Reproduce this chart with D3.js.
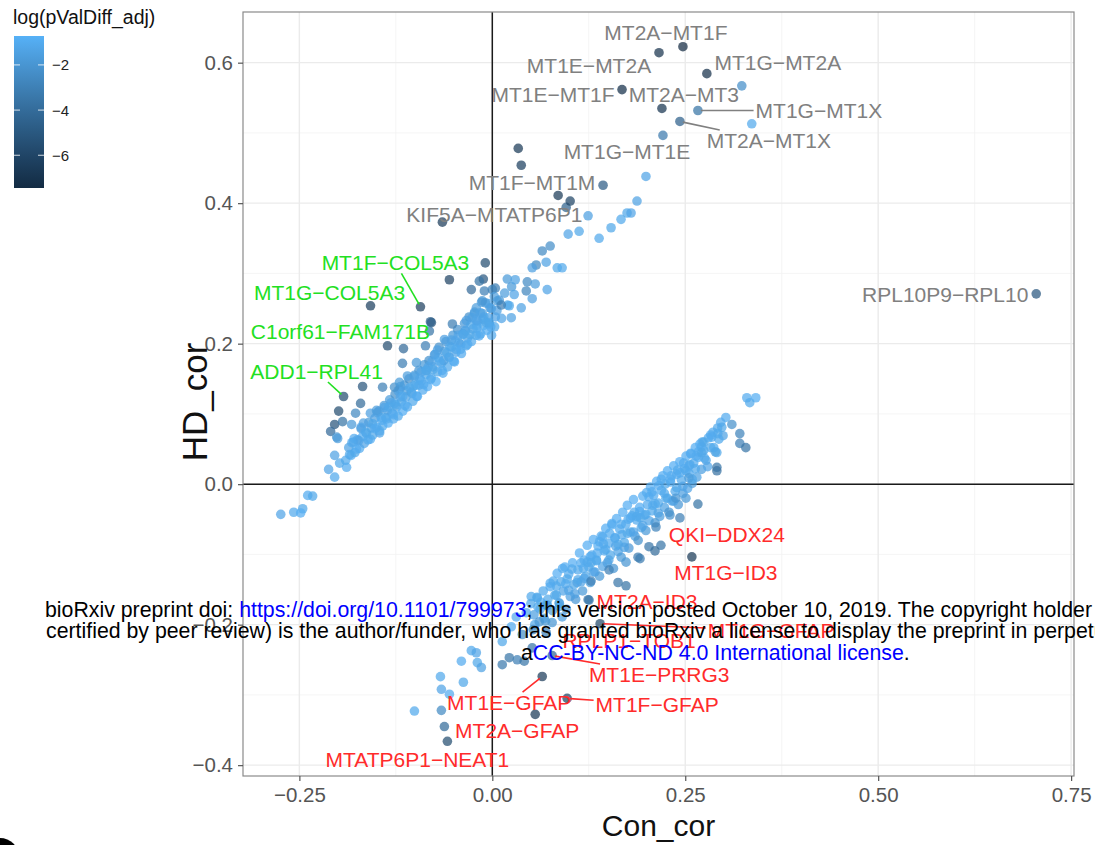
<!DOCTYPE html>
<html>
<head>
<meta charset="utf-8">
<script src="https://cdn.jsdelivr.net/npm/d3@7"></script>
<style>
  body { margin: 0; background: #fff; }
  svg { display: block; font-family: "Liberation Sans", Arial, Helvetica, sans-serif; }
</style>
</head>
<body>
<svg id="chart" width="1095" height="845"></svg>
<script>
// Gene-pair correlation in controls (Con_cor) versus Huntington's disease (HD_cor),
// coloured by log of the adjusted p-value of the correlation difference.

// ---- axis breaks ----
const xTicks = [-0.25, 0, 0.25, 0.5, 0.75];
const xTickLabels = ["−0.25", "0.00", "0.25", "0.50", "0.75"];
const yTicks = [-0.4, -0.2, 0, 0.2, 0.4, 0.6];
const yTickLabels = ["−0.4", "−0.2", "0.0", "0.2", "0.4", "0.6"];
const legendTicks = [-6, -4, -2];
const legendTickLabels = ["−6", "−4", "−2"];

// ---- pairs gaining correlation in HD: [Con_cor, HD_cor, log(pValDiff_adj)] ----
const upperCluster = [
  [-0.190,0.034,-1.1],[-0.186,0.052,-1.4],[-0.183,0.041,-0.9],
  [-0.178,0.045,-1.2],[-0.175,0.063,-1.6],[-0.172,0.051,-1.0],[-0.170,0.079,-1.9],
  [-0.166,0.058,-1.3],[-0.163,0.072,-1.1],[-0.160,0.088,-1.7],[-0.158,0.064,-0.9],
  [-0.155,0.070,-1.2],[-0.152,0.094,-1.5],[-0.150,0.081,-1.0],[-0.147,0.104,-2.0],[-0.146,0.073,-1.3],
  [-0.142,0.083,-1.1],[-0.140,0.112,-1.8],[-0.138,0.095,-1.2],[-0.135,0.087,-0.9],[-0.133,0.120,-1.6],
  [-0.130,0.101,-1.3],[-0.128,0.093,-1.0],[-0.126,0.128,-2.2],[-0.124,0.110,-1.4],[-0.122,0.097,-1.1],[-0.120,0.135,-1.7],
  [-0.118,0.117,-1.2],[-0.116,0.104,-0.9],[-0.114,0.141,-1.9],[-0.112,0.124,-1.3],[-0.110,0.110,-1.0],[-0.108,0.150,-2.3],
  [-0.105,0.131,-1.4],[-0.103,0.118,-1.1],[-0.101,0.155,-1.6],[-0.099,0.141,-1.2],[-0.097,0.125,-0.8],[-0.095,0.162,-2.0],
  [-0.092,0.147,-1.3],[-0.090,0.134,-1.0],[-0.088,0.170,-1.8],[-0.086,0.156,-1.2],[-0.084,0.139,-0.9],[-0.082,0.176,-2.1],
  [-0.079,0.151,-1.1],[-0.077,0.167,-1.5],[-0.075,0.184,-1.9],[-0.073,0.146,-0.72],[-0.071,0.160,-1.2],[-0.069,0.195,-2.2],
  [-0.066,0.172,-1.3],[-0.064,0.158,-1.0],[-0.062,0.189,-1.6],[-0.060,0.203,-2.0],[-0.058,0.167,-1.1],[-0.056,0.181,-1.4],
  [-0.053,0.195,-1.2],[-0.051,0.212,-1.8],[-0.049,0.174,-0.9],[-0.047,0.188,-1.3],[-0.045,0.220,-2.1],[-0.043,0.201,-1.5],
  [-0.040,0.186,-1.0],[-0.038,0.214,-1.4],[-0.036,0.229,-1.9],[-0.034,0.197,-1.1],[-0.032,0.208,-1.3],[-0.030,0.238,-2.2],
  [-0.027,0.203,-1.0],[-0.025,0.221,-1.5],[-0.023,0.245,-1.8],[-0.021,0.212,-1.2],[-0.019,0.232,-1.4],
  [-0.015,0.214,-1.1],[-0.013,0.243,-1.6],[-0.011,0.226,-1.2],[-0.009,0.258,-2.0],[-0.007,0.219,-0.9],[-0.005,0.237,-1.3],
  [-0.003,0.251,-1.7],[-0.001,0.212,-1.0],
  [0.003,0.224,-1.2],[0.006,0.247,-1.5],[0.009,0.262,-1.9],[0.012,0.236,-1.3],[0.016,0.272,-1.6],[0.020,0.255,-1.2],[0.025,0.281,-1.8],
  [-0.180,0.060,-1.3],[-0.168,0.068,-1.0],[-0.157,0.080,-1.4],[-0.144,0.095,-1.2],[-0.136,0.105,-1.5],[-0.127,0.115,-1.1],
  [-0.119,0.124,-1.3],[-0.111,0.133,-1.6],[-0.102,0.140,-1.2],[-0.094,0.150,-1.0],[-0.085,0.162,-1.4],[-0.078,0.175,-1.3],
  [-0.070,0.180,-1.1],[-0.063,0.176,-1.5],[-0.055,0.196,-1.2],[-0.048,0.204,-1.0],[-0.041,0.199,-1.3],[-0.035,0.218,-1.6],
  [-0.028,0.227,-1.2],[-0.020,0.222,-1.0],[-0.012,0.235,-1.4],[-0.004,0.228,-1.1],[0.004,0.238,-1.3],
  [-0.185,0.042,-1.2],[-0.179,0.065,-1.0],[-0.173,0.062,-1.3],[-0.167,0.087,-1.5],[-0.161,0.063,-1.1],[-0.155,0.086,-1.2],
  [-0.149,0.102,-1.4],[-0.143,0.091,-1.0],[-0.137,0.093,-1.1],[-0.131,0.116,-1.3],[-0.125,0.113,-1.2],[-0.119,0.139,-1.5],
  [-0.113,0.112,-1.0],[-0.107,0.137,-1.2],[-0.101,0.153,-1.4],[-0.095,0.141,-1.1],[-0.089,0.142,-1.0],[-0.083,0.167,-1.3],
  [-0.077,0.163,-1.2],[-0.071,0.191,-1.5],[-0.065,0.162,-1.0],[-0.059,0.187,-1.2],[-0.053,0.205,-1.4],[-0.047,0.192,-1.1],
  [-0.041,0.192,-1.0],[-0.035,0.219,-1.3],[-0.029,0.213,-1.2],[-0.023,0.243,-1.5],[-0.017,0.211,-1.0],[-0.011,0.238,-1.2],
  [-0.005,0.257,-1.4],
  [-0.182,0.059,-1.1],[-0.176,0.050,-1.0],[-0.170,0.081,-1.3],[-0.164,0.074,-1.2],[-0.158,0.101,-1.5],[-0.152,0.079,-1.0],
  [-0.146,0.076,-1.1],[-0.140,0.109,-1.3],[-0.134,0.110,-1.2],[-0.128,0.099,-1.0],[-0.122,0.133,-1.4],[-0.116,0.125,-1.1],
  [-0.110,0.154,-1.6],[-0.104,0.129,-1.2],[-0.098,0.125,-1.0],[-0.092,0.160,-1.3],[-0.086,0.162,-1.2],[-0.080,0.149,-1.0],
  [-0.074,0.185,-1.4],[-0.068,0.175,-1.1],[-0.062,0.206,-1.5],[-0.056,0.180,-1.2],[-0.050,0.175,-1.0],[-0.044,0.212,-1.3],
  [-0.038,0.213,-1.2],[-0.032,0.199,-1.0],[-0.026,0.237,-1.4],[-0.020,0.226,-1.1],[-0.014,0.259,-1.6],[-0.008,0.230,-1.2],
  [-0.002,0.224,-1.0],
  [-0.0091,0.315,-5.6],[-0.0116,0.292,-5.0],[-0.0168,0.289,-3.6],[-0.0556,0.291,-6.1],[-0.0272,0.277,-4.1],[-0.0103,0.275,-3.0],
  [-0.0129,0.261,-2.0],[-0.0207,0.251,-1.6],[-0.0155,0.244,-1.4],[-0.0013,0.250,-1.5],[0.0065,0.261,-1.7],[-0.0336,0.233,-1.5],
  [-0.0207,0.233,-1.3],[-0.0039,0.230,-1.2],[-0.0517,0.228,-3.1],[0.0246,0.237,-1.4],[-0.0789,0.230,-5.1],
  [-0.0815,0.218,-3.5],[-0.1358,0.197,-5.6],[-0.1151,0.193,-4.1],[-0.0866,0.197,-3.0],[-0.1164,0.172,-3.1],[-0.0983,0.173,-1.8],
  [-0.1681,0.139,-5.1],[-0.1422,0.138,-3.0],[-0.1707,0.115,-4.0],[-0.1991,0.104,-5.6],[-0.2043,0.085,-5.2],[-0.2095,0.075,-4.1],
  [-0.1940,0.089,-3.6],[-0.2017,0.067,-2.1],[-0.1772,0.101,-2.6],[-0.1823,0.085,-1.8],[-0.1500,0.105,-1.6],[-0.1267,0.138,-2.2],
  [-0.1203,0.145,-1.7],
  [-0.2121,0.021,-1.3],[-0.2043,0.010,-1.1],[-0.1979,0.030,-1.2],[-0.2004,0.065,-1.6],[-0.2043,0.041,-1.4],[-0.1888,0.024,-1.0],
  [-0.2457,-0.035,-1.2],[-0.2573,-0.040,-1.1],[-0.2483,-0.041,-0.9],[-0.2741,-0.043,-1.3],[-0.2392,-0.016,-1.0],[-0.2328,-0.017,-1.2],
  [0.0194,0.292,-1.8],[0.0297,0.291,-1.4],[0.0453,0.288,-2.5],[0.0556,0.285,-1.6],[0.0440,0.275,-2.7],[0.0711,0.277,-1.3],
  [0.0517,0.264,-1.5],[0.0284,0.270,-1.3],[0.0220,0.254,-1.2],[0.0375,0.251,-1.4],[0.0116,0.255,-3.0],[0.0039,0.279,-3.1],
  [0.0000,0.277,-2.9],[0.0026,0.267,-1.6],
  [0.0647,0.332,-2.5],[0.0750,0.339,-2.3],[0.0698,0.316,-1.4],[0.0841,0.308,-1.2],[0.0905,0.308,-1.1],[0.0569,0.312,-2.6],
  [0.0517,0.308,-1.5],
  [0.0983,0.356,-1.3],[0.1125,0.360,-1.2],[0.1384,0.350,-1.1],[0.1539,0.365,-1.2],[0.1241,0.382,-1.5],[0.1668,0.377,-1.1],
  [0.1746,0.386,-1.2],[0.1798,0.386,-1.3],[0.1875,0.403,-1.4],[0.1991,0.438,-1.3],[0.0957,0.394,-4.5],[0.1009,0.403,-6.0],
  [0.0853,0.411,-6.6],[0.0375,0.454,-6.3],[0.0336,0.478,-6.6],[0.3233,0.567,-2.3],[0.3362,0.513,-1.1]
];

// ---- pairs losing correlation in HD ----
const lowerCluster = [
  [0.050,-0.170,-1.2],[0.054,-0.186,-1.5],[0.058,-0.161,-1.0],
  [0.062,-0.178,-1.3],[0.066,-0.152,-1.1],[0.069,-0.195,-2.0],[0.072,-0.164,-1.2],
  [0.075,-0.141,-1.0],[0.078,-0.180,-1.7],[0.081,-0.158,-1.2],[0.084,-0.127,-0.9],
  [0.087,-0.170,-1.6],[0.089,-0.139,-1.1],[0.092,-0.152,-1.3],[0.094,-0.118,-0.9],[0.096,-0.178,-2.1],
  [0.099,-0.128,-1.0],[0.101,-0.160,-1.5],[0.104,-0.112,-0.9],[0.106,-0.143,-1.2],[0.108,-0.164,-1.9],
  [0.111,-0.122,-1.1],[0.113,-0.098,-0.9],[0.115,-0.139,-1.3],[0.117,-0.152,-1.8],[0.119,-0.108,-1.0],[0.121,-0.131,-1.2],
  [0.123,-0.087,-0.9],[0.125,-0.118,-1.1],[0.127,-0.140,-1.7],[0.129,-0.101,-1.0],[0.131,-0.079,-0.9],[0.133,-0.125,-1.4],
  [0.135,-0.109,-1.1],[0.137,-0.088,-0.9],[0.139,-0.131,-1.8],[0.141,-0.074,-1.0],[0.143,-0.117,-1.3],[0.145,-0.095,-1.0],
  [0.147,-0.063,-0.9],[0.149,-0.112,-1.5],[0.151,-0.084,-1.0],[0.153,-0.101,-1.2],[0.155,-0.058,-0.9],[0.157,-0.120,-2.0],
  [0.159,-0.076,-1.0],[0.161,-0.049,-0.9],[0.163,-0.096,-1.3],[0.165,-0.064,-1.0],[0.167,-0.104,-1.8],[0.169,-0.040,-0.9],
  [0.171,-0.083,-1.2],[0.173,-0.057,-1.0],[0.175,-0.030,-0.9],[0.177,-0.091,-1.9],[0.179,-0.068,-1.1],[0.181,-0.045,-1.0],
  [0.183,-0.022,-0.9],[0.185,-0.074,-1.5],[0.187,-0.051,-1.0],[0.189,-0.080,-2.2],[0.191,-0.033,-0.9],[0.193,-0.062,-1.2],
  [0.195,-0.017,-0.9],[0.197,-0.044,-1.1],[0.199,-0.066,-1.8],[0.201,-0.029,-1.0],[0.203,-0.052,-1.3],[0.205,-0.004,-0.9],
  [0.207,-0.038,-1.1],[0.209,-0.016,-1.0],[0.211,-0.055,-2.0],[0.213,0.004,-0.9],[0.215,-0.027,-1.1],[0.217,-0.046,-1.6],
  [0.219,-0.009,-1.0],[0.221,0.012,-0.9],[0.223,-0.033,-1.4],[0.225,-0.020,-1.1],[0.227,0.019,-0.9],[0.229,-0.040,-2.1],
  [0.231,0.003,-1.0],[0.233,-0.024,-1.3],[0.235,0.026,-0.9],[0.237,-0.010,-1.1],[0.239,0.014,-1.0],[0.241,-0.029,-1.9],
  [0.243,0.032,-0.9],[0.245,0.006,-1.1],[0.247,-0.013,-1.5],[0.249,0.022,-1.0],[0.251,0.040,-0.9],[0.253,-0.006,-1.3],
  [0.255,0.015,-1.0],[0.257,0.044,-0.9],[0.259,0.001,-1.6],[0.261,0.030,-1.0],[0.263,0.052,-0.9],[0.265,0.010,-1.4],
  [0.267,0.038,-1.0],[0.269,0.057,-0.9],[0.271,0.021,-1.5],[0.274,0.048,-1.1],[0.277,0.034,-1.3],[0.280,0.066,-1.0],
  [0.283,0.052,-1.2],[0.286,0.074,-1.0],[0.289,0.046,-1.6],[0.292,0.080,-1.1],[0.296,0.088,-1.0],[0.299,0.069,-1.4],
  [0.070,-0.172,-1.3],[0.083,-0.145,-1.1],[0.097,-0.135,-1.2],[0.110,-0.140,-1.4],[0.118,-0.120,-1.1],[0.128,-0.112,-1.2],
  [0.136,-0.098,-1.0],[0.144,-0.085,-1.1],[0.152,-0.070,-1.0],[0.160,-0.088,-1.3],[0.168,-0.072,-1.1],[0.176,-0.050,-1.0],
  [0.184,-0.040,-1.1],[0.192,-0.048,-1.2],[0.200,-0.012,-1.0],[0.208,-0.030,-1.1],[0.216,-0.002,-1.0],[0.224,0.000,-1.2],
  [0.232,0.012,-1.0],[0.240,0.020,-1.1],[0.248,0.030,-1.0],[0.256,0.028,-1.2],[0.264,0.040,-1.0],[0.272,0.060,-1.1],
  [0.055,-0.200,-1.2],[0.063,-0.168,-1.0],[0.071,-0.173,-1.3],[0.079,-0.138,-1.1],[0.087,-0.174,-1.4],[0.095,-0.142,-1.0],
  [0.103,-0.121,-1.1],[0.111,-0.136,-1.2],[0.119,-0.134,-1.3],[0.127,-0.103,-1.0],[0.135,-0.108,-1.1],[0.143,-0.075,-1.0],
  [0.151,-0.108,-1.4],[0.159,-0.077,-1.1],[0.167,-0.057,-1.0],[0.175,-0.070,-1.2],[0.183,-0.068,-1.3],[0.191,-0.039,-1.0],
  [0.199,-0.043,-1.1],[0.207,-0.011,-1.0],[0.215,-0.041,-1.4],[0.223,-0.013,-1.1],[0.231,0.007,-1.0],[0.239,-0.005,-1.2],
  [0.247,-0.003,-1.3],[0.255,0.026,-1.0],[0.263,0.022,-1.1],[0.271,0.053,-1.0],[0.279,0.025,-1.3],[0.287,0.052,-1.1],
  [0.059,-0.175,-1.1],[0.067,-0.191,-1.5],[0.075,-0.146,-1.0],[0.083,-0.158,-1.2],[0.091,-0.120,-1.0],[0.099,-0.151,-1.3],
  [0.107,-0.156,-1.5],[0.115,-0.112,-1.0],[0.123,-0.111,-1.1],[0.131,-0.125,-1.3],[0.139,-0.082,-1.0],[0.147,-0.093,-1.1],
  [0.155,-0.056,-1.0],[0.163,-0.086,-1.2],[0.171,-0.090,-1.4],[0.179,-0.048,-1.0],[0.187,-0.046,-1.1],[0.195,-0.059,-1.3],
  [0.203,-0.018,-1.0],[0.211,-0.028,-1.1],[0.219,0.007,-1.0],[0.227,-0.020,-1.2],[0.235,-0.024,-1.4],[0.243,0.016,-1.0],
  [0.251,0.019,-1.1],[0.259,0.007,-1.2],[0.267,0.046,-1.0],[0.275,0.037,-1.1],[0.283,0.070,-1.0],[0.291,0.045,-1.2],
  [0.3298,0.123,-1.0],[0.3414,0.123,-0.9],[0.3336,0.116,-1.1],[0.3026,0.095,-1.0],[0.3104,0.085,-2.2],[0.2974,0.081,-1.2],
  [0.2922,0.072,-1.1],[0.3207,0.072,-2.8],[0.3207,0.058,-3.0],[0.3285,0.052,-3.5],[0.2741,0.060,-1.2],[0.2845,0.067,-1.0],
  [0.2935,0.064,-1.1],[0.2716,0.045,-1.2],[0.2573,0.043,-1.0],[0.2910,0.024,-3.5],[0.2910,0.019,-3.7],
  [0.2547,0.009,-1.6],[0.2509,-0.020,-1.8],[0.2379,-0.020,-2.0],[0.2431,-0.048,-3.0],[0.2302,-0.044,-2.2],[0.2121,-0.061,-2.8],
  [0.2185,-0.087,-3.5],[0.2030,-0.089,-3.5],[0.2108,-0.095,-4.0],[0.1888,-0.104,-3.2],[0.1914,-0.106,-3.2],[0.1629,-0.140,-3.5],
  [0.1733,-0.111,-2.0],[0.1513,-0.122,-3.0],[0.1280,-0.138,-3.0],[0.1254,-0.165,-3.2],
  [0.0504,-0.160,-1.1],[0.0582,-0.162,-1.2],[0.0711,-0.172,-1.3],[0.0866,-0.169,-1.4],[0.0310,-0.189,-1.1],[0.0440,-0.183,-1.2],
  [0.0246,-0.203,-1.0],[0.0129,-0.224,-1.2],[0.0388,-0.214,-2.3],[0.0530,-0.207,-2.7],[0.0698,-0.211,-3.0],[0.0608,-0.196,-2.0],
  [0.0776,-0.197,-2.0],[0.0905,-0.189,-1.5],
  [-0.0272,-0.237,-1.1],[-0.0207,-0.240,-1.3],[-0.0401,-0.252,-1.0],[-0.0194,-0.254,-1.2],[-0.0142,-0.261,-1.4],
  [0.0129,-0.257,-3.3],[0.0220,-0.247,-3.5],[0.0323,-0.250,-3.0],[0.0414,-0.252,-3.5],[0.0517,-0.233,-3.5],
  [-0.0672,-0.274,-1.1],[-0.0375,-0.282,-1.2],[-0.0660,-0.292,-1.3],[-0.0556,-0.299,-1.0],[-0.1009,-0.323,-1.1],
  [-0.0660,-0.322,-2.5],[-0.0621,-0.345,-4.0]
];

// ---- named gene pairs ----
const labelledPairs = [
  { pair: "MT2A−MT1F",       con: 0.2470, hd: 0.6227,  logp: -7.45, group: "mt" },
  { pair: "MT1E−MT2A",       con: 0.2160, hd: 0.6142,  logp: -7.0,  group: "mt" },
  { pair: "MT1G−MT2A",       con: 0.2780, hd: 0.5844,  logp: -7.1,  group: "mt" },
  { pair: "MT1E−MT1F",       con: 0.1681, hd: 0.5617,  logp: -7.2,  group: "mt" },
  { pair: "MT2A−MT3",        con: 0.2198, hd: 0.5348,  logp: -6.9,  group: "mt" },
  { pair: "MT1G−MT1X",       con: 0.2664, hd: 0.5319,  logp: -3.6,  group: "mt" },
  { pair: "MT2A−MT1X",       con: 0.2431, hd: 0.5163,  logp: -4.6,  group: "mt" },
  { pair: "MT1G−MT1E",       con: 0.2211, hd: 0.4965,  logp: -3.3,  group: "mt" },
  { pair: "MT1F−MT1M",       con: 0.1435, hd: 0.4255,  logp: -4.8,  group: "mt" },
  { pair: "KIF5A−MTATP6P1",  con: -0.0647, hd: 0.3730, logp: -6.5,  group: "mt" },
  { pair: "RPL10P9−RPL10",   con: 0.7048, hd: 0.2709,  logp: -5.0,  group: "mt" },
  { pair: "MT1F−COL5A3",     con: -0.0931, hd: 0.2525, logp: -6.2,  group: "gain" },
  { pair: "MT1G−COL5A3",     con: -0.1578, hd: 0.2539, logp: -6.3,  group: "gain" },
  { pair: "C1orf61−FAM171B", con: -0.0802, hd: 0.2312, logp: -4.6,  group: "gain" },
  { pair: "ADD1−RPL41",      con: -0.1927, hd: 0.1248, logp: -5.6,  group: "gain" },
  { pair: "QKI−DDX24",       con: 0.2664, hd: -0.0284, logp: -3.6,  group: "loss" },
  { pair: "MT1G−ID3",        con: 0.2586, hd: -0.1035, logp: -6.6,  group: "loss" },
  { pair: "MT2A−ID3",        con: 0.1733, hd: -0.1447, logp: -3.6,  group: "loss" },
  { pair: "MT1G−GFAP",       con: 0.1397, hd: -0.1986, logp: -5.8,  group: "loss" },
  { pair: "RPLP1−TOB1",      con: 0.1241, hd: -0.1645, logp: -3.5,  group: "loss" },
  { pair: "MT1E−PRRG3",      con: 0.0776, hd: -0.2440, logp: -4.2,  group: "loss" },
  { pair: "MT1E−GFAP",       con: 0.0647, hd: -0.2738, logp: -6.5,  group: "loss" },
  { pair: "MT1F−GFAP",       con: 0.0970, hd: -0.3050, logp: -6.1,  group: "loss" },
  { pair: "MT2A−GFAP",       con: 0.0556, hd: -0.3277, logp: -6.6,  group: "loss" },
  { pair: "MTATP6P1−NEAT1",  con: -0.0582, hd: -0.3660, logp: -5.6,  group: "loss" }
];

// ---- label placement (pixel offset of the label centre from its point) ----
const labelLayout = {
  "MT2A−MT1F":       { dx: -17, dy: -14 },
  "MT1E−MT2A":       { dx: -70, dy: 13 },
  "MT1G−MT2A":       { dx: 71,  dy: -11 },
  "MT1E−MT1F":       { dx: -69, dy: 5 },
  "MT2A−MT3":        { dx: 22,  dy: -14 },
  "MT1G−MT1X":       { dx: 121, dy: 0, segment: true },
  "MT2A−MT1X":       { dx: 89,  dy: 19, segment: true },
  "MT1G−MT1E":       { dx: -36, dy: 16 },
  "MT1F−MT1M":       { dx: -71, dy: -3 },
  "KIF5A−MTATP6P1":  { dx: 52,  dy: -8 },
  "RPL10P9−RPL10":   { dx: -91, dy: 1 },
  "MT1F−COL5A3":     { dx: -25, dy: -44, segment: true },
  "MT1G−COL5A3":     { dx: -41, dy: -13 },
  "C1orf61−FAM171B": { dx: -90, dy: 10 },
  "ADD1−RPL41":      { dx: -27, dy: -25, segment: true },
  "QKI−DDX24":       { dx: 29,  dy: 30 },
  "MT1G−ID3":        { dx: 34,  dy: 16 },
  "MT2A−ID3":        { dx: 21,  dy: 16 },
  "MT1G−GFAP":       { dx: 171, dy: 7, segment: true },
  "RPLP1−TOB1":      { dx: 41,  dy: 41 },
  "MT1E−PRRG3":      { dx: 107, dy: 19, segment: true },
  "MT1E−GFAP":       { dx: -33, dy: 26, segment: true },
  "MT1F−GFAP":       { dx: 90,  dy: 6, segment: true },
  "MT2A−GFAP":       { dx: -18, dy: 16 },
  "MTATP6P1−NEAT1":  { dx: -30, dy: 18 }
};
const groupColour = { mt: "#808080", gain: "#22E022", loss: "#FF2B2B" };

// ---- layout ----
const panel = { left: 243, right: 1074, top: 12, bottom: 776 };
const svg = d3.select("#chart");

const allPoints = upperCluster.concat(lowerCluster, labelledPairs.map(d => [d.con, d.hd, d.logp]));
const expand = e => { const r = e[1] - e[0]; return [e[0] - 0.05 * r, e[1] + 0.05 * r]; };
const x = d3.scaleLinear().domain(expand(d3.extent(allPoints, d => d[0]))).range([panel.left, panel.right]);
const y = d3.scaleLinear().domain(expand(d3.extent(allPoints, d => d[1]))).range([panel.bottom, panel.top]);
const colour = d3.scaleLinear()
  .domain(d3.extent(allPoints, d => d[2]))
  .range(["#132B43", "#56B1F7"])
  .interpolate(d3.interpolateLab);

// panel background and grid
svg.append("rect").attr("x", panel.left).attr("y", panel.top)
  .attr("width", panel.right - panel.left).attr("height", panel.bottom - panel.top).attr("fill", "#fff");

const mids = t => d3.pairs(t).map(([a, b]) => (a + b) / 2);
const grid = svg.append("g");
grid.selectAll(".vmin").data(mids(xTicks)).join("line")
  .attr("x1", d => x(d)).attr("x2", d => x(d)).attr("y1", panel.top).attr("y2", panel.bottom)
  .attr("stroke", "#F2F2F2").attr("stroke-width", 0.8);
grid.selectAll(".hmin").data(mids(yTicks)).join("line")
  .attr("y1", d => y(d)).attr("y2", d => y(d)).attr("x1", panel.left).attr("x2", panel.right)
  .attr("stroke", "#F2F2F2").attr("stroke-width", 0.8);
grid.selectAll(".vmaj").data(xTicks).join("line")
  .attr("x1", d => x(d)).attr("x2", d => x(d)).attr("y1", panel.top).attr("y2", panel.bottom)
  .attr("stroke", "#EBEBEB").attr("stroke-width", 1.4);
grid.selectAll(".hmaj").data(yTicks).join("line")
  .attr("y1", d => y(d)).attr("y2", d => y(d)).attr("x1", panel.left).attr("x2", panel.right)
  .attr("stroke", "#EBEBEB").attr("stroke-width", 1.4);

// zero reference lines
svg.append("line").attr("x1", x(0)).attr("x2", x(0)).attr("y1", panel.top).attr("y2", panel.bottom)
  .attr("stroke", "#1a1a1a").attr("stroke-width", 1.5);
svg.append("line").attr("y1", y(0)).attr("y2", y(0)).attr("x1", panel.left).attr("x2", panel.right)
  .attr("stroke", "#1a1a1a").attr("stroke-width", 1.5);

// points
const pts = svg.append("g");
pts.selectAll("circle.bulk").data(upperCluster.concat(lowerCluster)).join("circle")
  .attr("cx", d => x(d[0])).attr("cy", d => y(d[1])).attr("r", 4.8)
  .attr("fill", d => colour(d[2])).attr("fill-opacity", 0.72);
pts.selectAll("circle.named").data(labelledPairs).join("circle")
  .attr("cx", d => x(d.con)).attr("cy", d => y(d.hd)).attr("r", 4.8)
  .attr("fill", d => colour(d.logp)).attr("fill-opacity", 0.72);

// labels with leader segments
const labG = svg.append("g");
labelledPairs.forEach(d => {
  const lay = labelLayout[d.pair];
  const px = x(d.con), py = y(d.hd);
  const cx = px + lay.dx, cy = py + lay.dy;
  const t = labG.append("text").attr("x", cx).attr("y", cy)
    .attr("text-anchor", "middle").attr("dominant-baseline", "central")
    .attr("font-size", 21).attr("fill", groupColour[d.group]).text(d.pair);
  if (lay.segment) {
    const bb = t.node().getBBox();
    const hw = bb.width / 2 + 2, hh = bb.height / 2 - 1;
    const vx = px - cx, vy = py - cy;
    const s = Math.min(vx !== 0 ? hw / Math.abs(vx) : Infinity, vy !== 0 ? hh / Math.abs(vy) : Infinity);
    const ex = cx + s * vx, ey = cy + s * vy;
    const len = Math.hypot(px - ex, py - ey);
    const k = (len - 3) / len;
    labG.append("line").attr("x1", ex).attr("y1", ey)
      .attr("x2", ex + (px - ex) * k).attr("y2", ey + (py - ey) * k)
      .attr("stroke", groupColour[d.group]).attr("stroke-width", 1.6);
  }
});

// panel border
svg.append("rect").attr("x", panel.left).attr("y", panel.top)
  .attr("width", panel.right - panel.left).attr("height", panel.bottom - panel.top)
  .attr("fill", "none").attr("stroke", "#8a8a8a").attr("stroke-width", 1.2);

// axes
const xAxis = svg.append("g").attr("transform", `translate(0,${panel.bottom})`)
  .call(d3.axisBottom(x).tickValues(xTicks).tickFormat((d, i) => xTickLabels[i]).tickSize(5).tickPadding(6));
const yAxis = svg.append("g").attr("transform", `translate(${panel.left},0)`)
  .call(d3.axisLeft(y).tickValues(yTicks).tickFormat((d, i) => yTickLabels[i]).tickSize(5).tickPadding(5));
[xAxis, yAxis].forEach(a => {
  a.select(".domain").remove();
  a.selectAll(".tick line").attr("stroke", "#555").attr("stroke-width", 1.2);
  a.selectAll(".tick text").attr("fill", "#555").attr("font-size", 20.5)
    .attr("font-family", "Liberation Sans, Arial, sans-serif");
});

svg.append("text").attr("x", (panel.left + panel.right) / 2).attr("y", 836)
  .attr("text-anchor", "middle").attr("font-size", 30).attr("fill", "#111").text("Con_cor");
svg.append("text").attr("transform", `translate(207,402) rotate(-90)`)
  .attr("text-anchor", "middle").attr("font-size", 35).attr("fill", "#111").text("HD_cor");

// colour bar legend
const leg = { x: 14, y: 36, w: 30, h: 152 };
const cDomain = colour.domain();
const lScale = d3.scaleLinear().domain(cDomain).range([leg.y + leg.h, leg.y]);
const grad = svg.append("defs").append("linearGradient").attr("id", "cbar")
  .attr("x1", 0).attr("y1", 1).attr("x2", 0).attr("y2", 0);
d3.range(0, 1.0001, 0.1).forEach(f => {
  grad.append("stop").attr("offset", f).attr("stop-color", colour(cDomain[0] + f * (cDomain[1] - cDomain[0])));
});
svg.append("text").attr("x", 13).attr("y", 24).attr("font-size", 19.5).attr("fill", "#111").text("log(pValDiff_adj)");
svg.append("rect").attr("x", leg.x).attr("y", leg.y).attr("width", leg.w).attr("height", leg.h).attr("fill", "url(#cbar)");
const lt = svg.append("g");
legendTicks.forEach((v, i) => {
  const ty = lScale(v);
  lt.append("line").attr("x1", leg.x).attr("x2", leg.x + 6).attr("y1", ty).attr("y2", ty).attr("stroke", "#fff").attr("stroke-opacity", 0.8);
  lt.append("line").attr("x1", leg.x + leg.w - 6).attr("x2", leg.x + leg.w).attr("y1", ty).attr("y2", ty).attr("stroke", "#fff").attr("stroke-opacity", 0.8);
  lt.append("text").attr("x", leg.x + leg.w + 8).attr("y", ty).attr("dominant-baseline", "central")
    .attr("font-size", 15).attr("fill", "#222").text(legendTickLabels[i]);
});

// preprint notice across the figure
const note = svg.append("g").attr("font-size", 21.3).attr("fill", "#000");
const l1 = note.append("text").attr("x", 45).attr("y", 617);
l1.append("tspan").text("bioRxiv preprint doi: ");
l1.append("tspan").attr("fill", "#0000FF").text("https://doi.org/10.1101/799973");
l1.append("tspan").text("; this version posted October 10, 2019. The copyright holder for this preprint (which was not");
note.append("text").attr("x", 46).attr("y", 638)
  .text("certified by peer review) is the author/funder, who has granted bioRxiv a license to display the preprint in perpetuity. It is made available under");
const l3 = note.append("text").attr("x", 521).attr("y", 660);
l3.append("tspan").text("a");
l3.append("tspan").attr("fill", "#0000FF").text("CC-BY-NC-ND 4.0 International license");
l3.append("tspan").text(".");

// page mark in the corner
svg.append("circle").attr("cx", 0).attr("cy", 857).attr("r", 19).attr("fill", "#000");
</script>
</body>
</html>
